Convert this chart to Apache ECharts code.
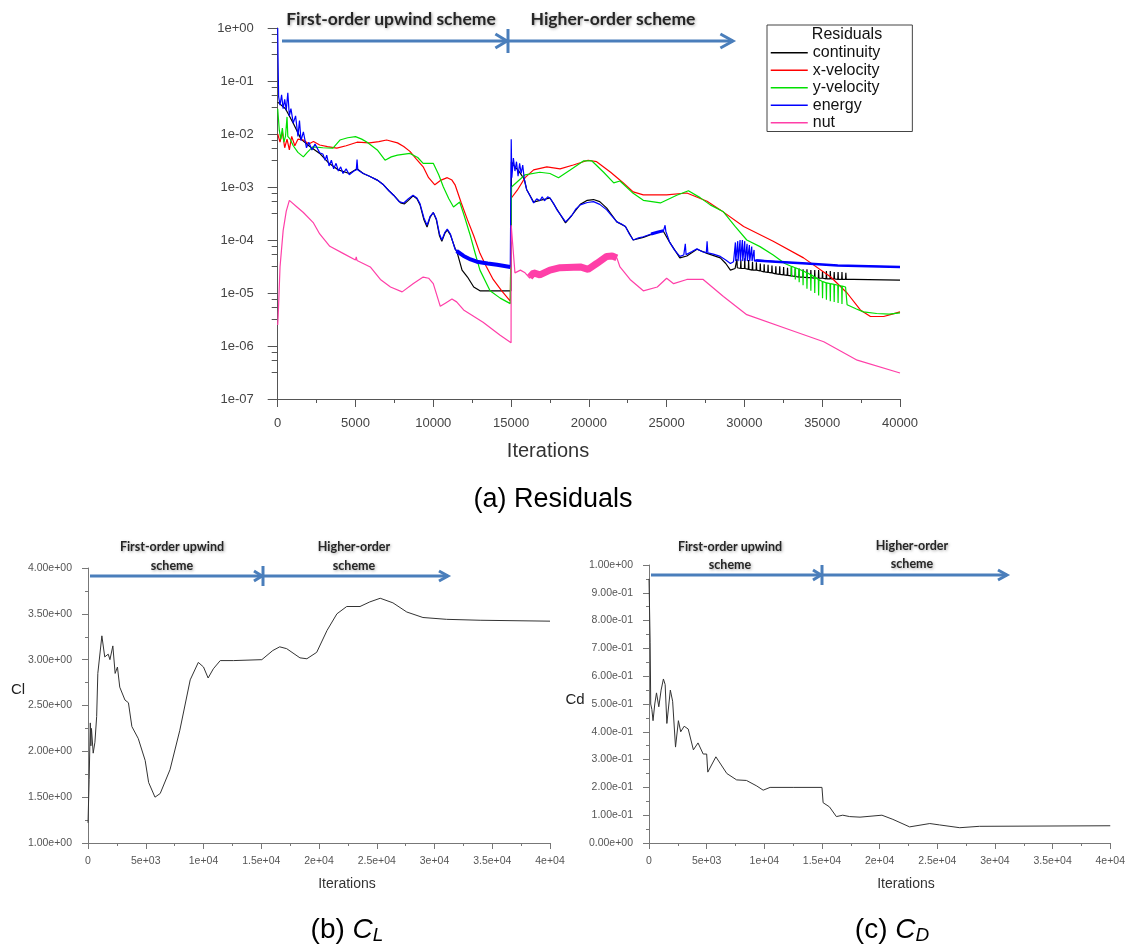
<!DOCTYPE html>
<html>
<head>
<meta charset="utf-8">
<title>Residuals, Cl and Cd</title>
<script src="https://cdn.jsdelivr.net/npm/echarts@6/dist/echarts.min.js"></script>
<style>
html, body { margin: 0; padding: 0; background: #fff; }
#main { width: 1128px; height: 949px; }
</style>
</head>
<body>
<div id="main"></div>
<script>
// ---- residual histories [iteration, residual] ----
var continuity = [
  [0, 4e-2], [500, 3e-2], [1000, 1.6e-2], [1500, 8e-3], [2000, 6e-3], [2700, 4.3e-3], [3300, 2.8e-3],
  [3900, 2.1e-3], [4600, 1.8e-3], [5100, 2.2e-3], [5500, 1.8e-3], [5900, 1.6e-3], [6400, 1.35e-3],
  [6800, 1.1e-3], [7150, 8.5e-4], [7450, 7e-4], [7900, 5e-4], [8150, 4.8e-4], [8400, 5.6e-4],
  [8700, 6.8e-4], [8950, 6e-4], [9150, 4.6e-4], [9400, 2.4e-4], [9600, 1.75e-4], [9800, 2.7e-4],
  [10000, 3.3e-4], [10200, 2.4e-4], [10400, 1.2e-4], [10550, 9.5e-5], [10750, 1.35e-4], [10900, 1.55e-4],
  [11100, 1.25e-4], [11400, 7e-5], [11550, 5.6e-5], [11850, 2.7e-5], [12200, 2e-5], [12600, 1.3e-5],
  [13000, 1.1e-5], [15000, 1.1e-5],
  [15020, 3e-3], [15200, 2.5e-3], [15500, 2e-3], [15850, 1.4e-3], [16000, 9e-4], [16450, 5.2e-4],
  [16850, 5.6e-4], [17500, 6.2e-4], [17950, 3.8e-4], [18500, 2.1e-4], [18900, 2.9e-4], [19450, 4.7e-4],
  [19900, 5.6e-4], [20300, 5.8e-4], [20700, 5.3e-4], [21150, 4e-4], [21500, 2.9e-4], [21800, 2.2e-4],
  [22350, 1.8e-4], [22850, 1e-4], [23500, 1.12e-4], [24400, 1.4e-4], [24800, 1.45e-4], [25200, 9e-5],
  [25850, 4.6e-5], [26300, 5e-5], [26950, 6.7e-5], [27600, 5.6e-5], [28450, 4.6e-5], [28800, 3.6e-5],
  [29100, 2.7e-5], [29400, 2.9e-5],
  [29500, 3e-5], [29520, 4.4e-5], [29540, 3e-5], [29750, 2.9e-5], [29770, 4.3e-5], [29790, 2.9e-5],
  [30000, 2.9e-5], [30020, 4.5e-5], [30040, 2.9e-5], [30250, 2.8e-5], [30270, 4.2e-5], [30290, 2.8e-5],
  [30500, 2.7e-5], [30520, 3.9e-5], [30540, 2.7e-5], [30750, 2.7e-5], [30770, 3.8e-5], [30790, 2.7e-5],
  [31000, 2.6e-5], [31020, 3.6e-5], [31040, 2.6e-5], [31250, 2.5e-5], [31270, 3.5e-5], [31290, 2.5e-5],
  [31500, 2.45e-5], [31520, 3.4e-5], [31540, 2.45e-5], [31750, 2.4e-5], [31770, 3.3e-5], [31790, 2.4e-5],
  [32000, 2.3e-5], [32020, 3.2e-5], [32040, 2.3e-5], [32250, 2.25e-5], [32270, 3.2e-5], [32290, 2.25e-5],
  [32500, 2.2e-5], [32520, 3.1e-5], [32540, 2.2e-5], [32750, 2.15e-5], [32770, 3e-5], [32790, 2.15e-5],
  [33000, 2.1e-5], [33020, 3e-5], [33040, 2.1e-5], [33250, 2.05e-5], [33270, 2.9e-5], [33290, 2.05e-5],
  [33500, 2e-5], [33520, 2.9e-5], [33540, 2e-5], [33750, 2e-5], [33770, 2.8e-5], [33790, 2e-5],
  [34000, 1.95e-5], [34020, 2.8e-5], [34040, 1.95e-5], [34250, 1.95e-5], [34270, 2.7e-5], [34290, 1.95e-5],
  [34500, 1.9e-5], [34520, 2.7e-5], [34540, 1.9e-5], [34750, 1.9e-5], [34770, 2.7e-5], [34790, 1.9e-5],
  [35000, 1.9e-5], [35020, 2.6e-5], [35040, 1.9e-5], [35250, 1.85e-5], [35270, 2.6e-5], [35290, 1.85e-5],
  [35500, 1.85e-5], [35520, 2.6e-5], [35540, 1.85e-5], [35750, 1.85e-5], [35770, 2.5e-5], [35790, 1.85e-5],
  [36000, 1.8e-5], [36020, 2.5e-5], [36040, 1.8e-5], [36250, 1.8e-5], [36270, 2.5e-5], [36290, 1.8e-5],
  [36500, 1.8e-5], [36520, 2.4e-5], [36540, 1.8e-5], [37000, 1.8e-5], [40000, 1.75e-5]
];
var xVelocity = [
  [0, 1e-2], [150, 7e-3], [300, 1.1e-2], [450, 5.5e-3], [600, 8e-3], [750, 5e-3], [900, 9e-3],
  [1100, 6e-3], [1300, 8e-3], [1650, 7.7e-3], [2000, 6.5e-3], [2300, 7.2e-3], [2700, 6.2e-3],
  [3200, 5.8e-3], [3800, 5.4e-3], [4400, 6e-3], [5100, 7e-3], [5900, 6.8e-3], [6500, 7.2e-3],
  [7000, 7.7e-3], [7700, 6.8e-3], [8100, 5.8e-3], [8500, 4.7e-3], [8900, 3.4e-3], [9350, 2.4e-3],
  [9700, 1.5e-3], [10100, 1.1e-3], [10500, 1.35e-3], [10900, 1.5e-3], [11200, 1.35e-3], [11400, 1.1e-3],
  [11800, 5e-4], [12200, 2.4e-4], [12600, 1.2e-4], [13000, 5.6e-5], [13400, 3.2e-5], [13850, 1.8e-5],
  [14400, 1.1e-5], [14950, 7e-6],
  [15000, 7e-6], [15020, 6.2e-4], [15400, 8.7e-4], [15900, 1.5e-3], [16450, 2.1e-3], [17300, 2.4e-3],
  [18150, 2.2e-3], [19000, 2.6e-3], [19950, 3.2e-3], [20500, 3e-3], [21400, 1.9e-3], [22200, 1.2e-3],
  [22850, 8.1e-4], [23500, 7.1e-4], [25000, 7.1e-4], [26300, 7.7e-4], [27600, 5.4e-4], [28450, 3.7e-4],
  [29950, 1.8e-4], [31850, 9.5e-5], [33800, 4.6e-5], [35550, 2e-5], [36600, 1e-5], [37450, 4.8e-6],
  [38100, 3.6e-6], [38950, 3.6e-6], [39500, 4e-6], [40000, 4.4e-6]
];
var yVelocity = [
  [0, 3e-2], [100, 1.2e-2], [200, 8e-3], [300, 1.3e-2], [400, 7e-3], [500, 9e-3], [600, 2.1e-2],
  [650, 9e-3], [800, 8e-3], [1000, 6e-3], [1300, 4.5e-3], [1650, 3.7e-3], [1900, 4.5e-3], [2250, 5.7e-3],
  [2900, 5.5e-3], [3550, 5.4e-3], [4000, 7.7e-3], [4500, 8.5e-3], [5000, 8.9e-3], [5400, 8e-3],
  [5750, 7e-3], [6400, 5e-3], [6900, 3.2e-3], [7300, 3.7e-3], [7700, 4e-3], [8500, 4.3e-3], [9000, 3.6e-3],
  [9350, 2.8e-3], [10000, 2.8e-3], [10350, 1.7e-3], [10650, 1e-3], [11000, 6e-4], [11300, 4.2e-4],
  [11700, 5.2e-4], [12000, 2.8e-4], [12350, 1.3e-4], [12700, 5.5e-5], [13000, 2.7e-5], [13650, 1.1e-5],
  [14300, 8e-6], [14950, 6.3e-6],
  [15000, 6e-6], [15030, 1e-3], [15900, 1.7e-3], [16850, 1.9e-3], [17500, 1.8e-3], [18050, 1.5e-3],
  [18800, 2.1e-3], [19650, 3.1e-3], [20200, 3.1e-3], [20950, 1.9e-3], [21600, 1.2e-3], [22000, 1.3e-3],
  [22850, 7.6e-4], [23500, 5.6e-4], [24600, 5e-4], [25650, 7e-4], [26400, 8.5e-4], [27150, 6.3e-4],
  [27800, 4.6e-4], [28650, 3.4e-4], [29400, 1.8e-4], [30150, 1e-4], [31000, 7.5e-5], [31850, 5.2e-5],
  [32600, 3.6e-5],
  [33000, 3.2e-5], [33020, 2e-5], [33040, 3.2e-5], [33250, 3e-5], [33270, 1.8e-5], [33290, 3e-5],
  [33500, 2.8e-5], [33520, 1.6e-5], [33540, 2.8e-5], [33750, 2.6e-5], [33770, 1.4e-5], [33790, 2.6e-5],
  [34000, 2.4e-5], [34020, 1.2e-5], [34040, 2.4e-5], [34250, 2.2e-5], [34270, 1.1e-5], [34290, 2.2e-5],
  [34500, 2e-5], [34520, 1e-5], [34540, 2e-5], [34750, 1.8e-5], [34770, 9e-6], [34790, 1.8e-5],
  [35000, 1.65e-5], [35020, 8e-6], [35040, 1.65e-5], [35250, 1.55e-5], [35270, 7.5e-6], [35290, 1.55e-5],
  [35500, 1.5e-5], [35520, 7e-6], [35540, 1.5e-5], [35750, 1.45e-5], [35770, 6.8e-6], [35790, 1.45e-5],
  [36000, 1.4e-5], [36020, 6.5e-6], [36040, 1.4e-5], [36250, 1.35e-5], [36270, 6.2e-6], [36290, 1.35e-5],
  [36500, 1.3e-5], [36600, 6e-6],
  [37200, 5e-6], [37650, 4.4e-6], [38500, 4.1e-6], [39300, 4e-6], [40000, 4.2e-6]
];
var energy = [
  [0, 1.0], [20, 0.3], [60, 5e-2], [150, 3.5e-2], [250, 5.5e-2], [350, 3e-2], [450, 4.5e-2], [550, 2.8e-2],
  [650, 6e-2], [750, 2.2e-2], [850, 3e-2], [1000, 1.6e-2], [1150, 2.2e-2], [1300, 9e-3], [1400, 1.8e-2],
  [1500, 7.5e-3], [1650, 1.1e-2], [1850, 5.5e-3], [2000, 7e-3], [2200, 5e-3], [2400, 6.5e-3],
  [2700, 4.4e-3], [2900, 4.2e-3], [3050, 3.2e-3], [3150, 4e-3], [3300, 2.5e-3], [3450, 3.2e-3],
  [3600, 2.2e-3], [3750, 2.8e-3], [3900, 2e-3], [4050, 2.4e-3], [4200, 1.8e-3], [4400, 2.2e-3],
  [4600, 1.7e-3], [4900, 2e-3], [5050, 2.1e-3], [5100, 3.3e-3], [5150, 2.1e-3], [5500, 1.8e-3],
  [5900, 1.6e-3], [6400, 1.35e-3], [6800, 1.1e-3], [7150, 8.5e-4], [7450, 7e-4], [7800, 5.3e-4],
  [8100, 5e-4], [8400, 6e-4], [8700, 7e-4], [8950, 6.2e-4], [9150, 4.8e-4], [9400, 2.6e-4], [9600, 1.9e-4],
  [9800, 2.8e-4], [10000, 3.3e-4], [10200, 2.5e-4], [10400, 1.3e-4], [10550, 1e-4], [10750, 1.4e-4],
  [10900, 1.6e-4], [11100, 1.3e-4], [11400, 6.7e-5], [11700, 5.5e-5], [11950, 5e-5], [12400, 4.3e-5],
  [12800, 3.9e-5], [13500, 3.6e-5], [14100, 3.4e-5], [14950, 3.1e-5],
  [15000, 3e-5], [15010, 8e-3], [15050, 1.5e-3], [15150, 3.5e-3], [15250, 2e-3], [15350, 3e-3],
  [15450, 1.6e-3], [15550, 2.8e-3], [15650, 1.8e-3], [15750, 2.6e-3], [15850, 1.4e-3], [16000, 9e-4],
  [16200, 7e-4], [16450, 5e-4], [16650, 6e-4], [16850, 5.5e-4], [17000, 6.5e-4], [17150, 5.5e-4],
  [17350, 6.5e-4], [17500, 6.2e-4], [17750, 4.8e-4], [17950, 3.7e-4], [18250, 2.8e-4], [18500, 2.2e-4],
  [18700, 2.5e-4], [18900, 2.9e-4], [19150, 3.8e-4], [19450, 4.6e-4], [19900, 5.1e-4], [20300, 5.3e-4],
  [20700, 4.7e-4], [21150, 3.7e-4], [21500, 2.8e-4], [21800, 2.2e-4], [22100, 2e-4], [22350, 1.8e-4],
  [22600, 1.3e-4], [22850, 1e-4], [23200, 1.1e-4], [23500, 1.15e-4], [24000, 1.3e-4], [24400, 1.4e-4],
  [24800, 1.5e-4], [24900, 1.9e-4], [24950, 1.45e-4], [25200, 9e-5], [25500, 6.5e-5], [25850, 4.9e-5],
  [26100, 5.2e-5], [26200, 8.5e-5], [26250, 5.3e-5], [26600, 6e-5], [26950, 6.8e-5], [27300, 6e-5],
  [27550, 5.8e-5], [27600, 9.5e-5], [27650, 5.7e-5], [28000, 5.4e-5], [28450, 4.9e-5], [28800, 4.2e-5],
  [29100, 3.6e-5], [29300, 3.9e-5],
  [29400, 4e-5], [29420, 9e-5], [29440, 4e-5], [29550, 4e-5], [29570, 9.5e-5], [29590, 4e-5],
  [29700, 4e-5], [29720, 1e-4], [29740, 4e-5], [29850, 4e-5], [29870, 1e-4], [29890, 4e-5],
  [30000, 4e-5], [30020, 9.5e-5], [30040, 4e-5], [30150, 4e-5], [30170, 8.5e-5], [30190, 4e-5],
  [30300, 4e-5], [30320, 8e-5], [30340, 4e-5], [30450, 4e-5], [30470, 7.5e-5], [30490, 4e-5],
  [30600, 4e-5], [30620, 6.5e-5], [30640, 4e-5], [30800, 4.2e-5], [32000, 3.9e-5],
  [34000, 3.6e-5], [36000, 3.3e-5], [38000, 3.2e-5], [40000, 3.1e-5]
];
var nut = [
  [0, 2.5e-6], [30, 3.6e-6], [150, 3.1e-5], [350, 1.5e-4], [550, 3.5e-4], [750, 5.6e-4], [1200, 4.3e-4],
  [1650, 3.3e-4], [2300, 2.1e-4], [2700, 1.3e-4], [3350, 7.6e-5], [4200, 5.6e-5], [5000, 4.2e-5],
  [5050, 4.8e-5], [5100, 4.1e-5], [5950, 3.1e-5], [6600, 1.8e-5], [7250, 1.3e-5], [8000, 1.05e-5],
  [8700, 1.5e-5], [9350, 2e-5], [9700, 1.9e-5], [10000, 1.5e-5], [10450, 5.6e-6], [10800, 6.5e-6],
  [11200, 7.7e-6], [11500, 6.8e-6], [11950, 4.8e-6], [13200, 2.8e-6], [14300, 1.6e-6], [15000, 1.15e-6],
  [15010, 1.9e-4], [15100, 8.7e-5], [15250, 2.4e-5], [15600, 2.7e-5], [15900, 2.4e-5], [16200, 1.9e-5],
  [16450, 2.4e-5], [16850, 2.2e-5], [17500, 2.7e-5], [18150, 3e-5], [19450, 3.1e-5], [19950, 2.8e-5],
  [20500, 3.6e-5], [21150, 4.9e-5], [21800, 4.6e-5], [22000, 3.1e-5], [22650, 1.8e-5], [23500, 1.1e-5],
  [24400, 1.3e-5], [25000, 1.9e-5], [25450, 1.5e-5], [26300, 1.8e-5], [27350, 1.8e-5], [28650, 8.6e-6],
  [30150, 3.9e-6], [32950, 2e-6], [35100, 1.2e-6], [37250, 5.4e-7], [40000, 3.1e-7]
];
// stretches where a residual scatters into a thick band
var energyBand = [
  [11500, 6.2e-5], [11950, 5e-5], [12400, 4.3e-5], [12800, 3.9e-5], [13500, 3.6e-5], [14100, 3.4e-5], [14950, 3.1e-5]
];
var energyBandMid = [[24000, 1.3e-4], [24400, 1.4e-4], [24800, 1.5e-4]];
var energyBandLate = [[30700, 4.1e-5], [32000, 3.9e-5], [34000, 3.6e-5], [36000, 3.3e-5], [38000, 3.2e-5], [40000, 3.1e-5]];
var nutBand = [
  [16200, 2e-5], [16450, 2.4e-5], [16850, 2.2e-5], [17500, 2.7e-5], [18150, 3e-5], [19450, 3.1e-5],
  [19950, 2.8e-5], [20500, 3.6e-5], [21150, 4.9e-5], [21500, 5e-5], [21800, 4.6e-5]
];

// ---- lift and drag coefficient histories [iteration, value] ----
var cl = [
  [0, 1.22], [100, 1.69], [200, 2.31], [250, 2.06], [300, 2.25], [450, 1.98], [600, 2.1], [750, 2.38],
  [850, 2.85], [1200, 3.26], [1450, 3.03], [1750, 3.06], [1900, 3.0], [2150, 3.15], [2350, 2.85],
  [2550, 2.92], [2750, 2.7], [3200, 2.56], [3500, 2.53], [3800, 2.27], [4350, 2.14], [4950, 1.9],
  [5250, 1.66], [5800, 1.5], [6250, 1.54], [7100, 1.8], [7950, 2.23], [8850, 2.78], [9550, 2.97],
  [10000, 2.92], [10400, 2.8], [10850, 2.9], [11450, 2.99], [12600, 2.99], [15050, 3.0], [16000, 3.1],
  [16600, 3.14], [17200, 3.12], [18350, 3.02], [18950, 3.01], [19800, 3.08], [20700, 3.32], [21550, 3.5],
  [22400, 3.58], [23550, 3.58], [24400, 3.63], [25300, 3.67], [26400, 3.62], [27600, 3.52], [29000, 3.46],
  [31050, 3.44], [33950, 3.43], [40000, 3.42]
];
var cd = [
  [0, 0.95], [100, 0.72], [150, 0.5], [250, 0.48], [350, 0.44], [500, 0.5], [650, 0.54], [850, 0.49],
  [1050, 0.55], [1250, 0.59], [1400, 0.57], [1550, 0.43], [1850, 0.55], [2050, 0.51], [2300, 0.345],
  [2550, 0.44], [2750, 0.4], [3050, 0.42], [3400, 0.41], [3850, 0.335], [4250, 0.36], [4700, 0.32],
  [5000, 0.32], [5100, 0.255], [5800, 0.31], [6750, 0.25], [7600, 0.227], [8450, 0.225], [9350, 0.205],
  [9900, 0.19], [10500, 0.2], [12500, 0.2], [15000, 0.2], [15100, 0.145], [15650, 0.13], [16250, 0.095],
  [16800, 0.1], [17400, 0.095], [18300, 0.093], [20200, 0.1], [21150, 0.085], [22600, 0.058],
  [24350, 0.07], [25200, 0.065], [26950, 0.055], [28650, 0.06], [40000, 0.062]
];

var residualNames = ['continuity', 'x-velocity', 'y-velocity', 'energy', 'nut'];
var residualColors = ['#000000', '#ff0000', '#00e000', '#0000ff', '#ff3fa8'];

function padExp(s) {
  return s.replace(/e([+-])(\d)$/, function (m, sign, d) { return 'e' + sign + '0' + d; });
}
function logLabel(v) {
  var p = Math.round(Math.log(v) / Math.LN10);
  return '1e' + (p < 0 ? '-' : '+') + (Math.abs(p) < 10 ? '0' : '') + Math.abs(p);
}
function iterExp(v) { return v === 0 ? '0' : padExp(v.toExponential()); }
function coefExp(v) { return padExp(v.toExponential(2)); }

var chart = echarts.init(document.getElementById('main'));

var smallAxis = {
  axisLine: { lineStyle: { color: '#777', width: 1 } },
  axisTick: { length: 6, lineStyle: { color: '#777' } },
  minorTick: { show: true, splitNumber: 2, length: 3, lineStyle: { color: '#777' } },
  splitLine: { show: false }
};

function arrowGraphics(x0, xBar, x1, y, head, barHalf) {
  var blue = '#4a7ebb';
  return [
    { type: 'line', shape: { x1: x0, y1: y, x2: xBar, y2: y }, style: { stroke: blue, lineWidth: 3 } },
    { type: 'polyline', shape: { points: [[xBar - head * 1.8, y - head], [xBar - 1, y], [xBar - head * 1.8, y + head]] }, style: { stroke: blue, lineWidth: 3, fill: null } },
    { type: 'line', shape: { x1: xBar, y1: y - barHalf, x2: xBar, y2: y + barHalf }, style: { stroke: blue, lineWidth: 3 } },
    { type: 'line', shape: { x1: xBar, y1: y, x2: x1, y2: y }, style: { stroke: blue, lineWidth: 3 } },
    { type: 'polyline', shape: { points: [[x1 - head * 1.8, y - head], [x1, y], [x1 - head * 1.8, y + head]] }, style: { stroke: blue, lineWidth: 3, fill: null } }
  ];
}
function schemeText(text, x, y, size) {
  return {
    type: 'text',
    style: {
      text: text, x: x, y: y, align: 'center', verticalAlign: 'middle',
      fontFamily: 'Lato', fontWeight: 'bold', fontSize: size, fill: '#262626',
      textShadowColor: 'rgba(0,0,0,0.35)', textShadowBlur: 3, textShadowOffsetX: 1, textShadowOffsetY: 1
    }
  };
}
function plainText(text, x, y, size, color) {
  return {
    type: 'text',
    style: { text: text, x: x, y: y, align: 'center', verticalAlign: 'middle', fontFamily: 'Liberation Sans', fontSize: size, fill: color }
  };
}
function caption(prefix, sym, sub, x, y) {
  return {
    type: 'text',
    style: {
      text: prefix + '{i|' + sym + '}{s|' + sub + '}', x: x, y: y, align: 'center', verticalAlign: 'middle',
      fontFamily: 'Liberation Sans', fontSize: 28, fill: '#000',
      rich: {
        i: { fontFamily: 'Liberation Sans', fontStyle: 'italic', fontSize: 28, fill: '#000' },
        s: { fontFamily: 'Liberation Sans', fontStyle: 'italic', fontSize: 19, fill: '#000', padding: [12, 0, 0, 0] }
      }
    }
  };
}

var graphics = []
  .concat(arrowGraphics(282, 508, 733, 41, 7, 12))
  .concat(arrowGraphics(90, 263, 448, 576, 5, 10))
  .concat(arrowGraphics(651, 822, 1007, 575, 5, 10))
  .concat([
    schemeText('First-order upwind scheme', 391, 19, 17.5),
    schemeText('Higher-order scheme', 613, 19, 17.5),
    schemeText('First-order upwind', 172, 547, 12.5),
    schemeText('scheme', 172, 566, 12.5),
    schemeText('Higher-order', 354, 547, 12.5),
    schemeText('scheme', 354, 566, 12.5),
    schemeText('First-order upwind', 730, 547, 12.5),
    schemeText('scheme', 730, 565, 12.5),
    schemeText('Higher-order', 912, 546, 12.5),
    schemeText('scheme', 912, 564, 12.5),
    plainText('Residuals', 847, 35, 16, '#111'),
    plainText('Iterations', 548, 451, 20, '#333'),
    plainText('Iterations', 347, 884, 14, '#333'),
    plainText('Iterations', 906, 884, 14, '#333'),
    plainText('Cl', 18, 690, 15, '#222'),
    plainText('Cd', 575, 700, 15, '#222'),
    plainText('(a) Residuals', 553, 500, 27, '#000'),
    caption('(b) ', 'C', 'L', 347, 930),
    caption('(c) ', 'C', 'D', 892, 930)
  ]);

function residualSeries(name, data, color, width) {
  return {
    name: name, type: 'line', xAxisIndex: 0, yAxisIndex: 0, data: data,
    symbol: 'none', showSymbol: false, silent: true,
    lineStyle: { color: color, width: width }, itemStyle: { color: color }
  };
}

var option = {
  animation: false,
  backgroundColor: '#ffffff',
  textStyle: { fontFamily: 'Liberation Sans' },
  grid: [
    { left: 277.7, top: 28, width: 622.3, height: 371 },
    { left: 88, top: 568, width: 462, height: 275 },
    { left: 649, top: 565, width: 462, height: 278 }
  ],
  legend: {
    data: residualNames,
    orient: 'vertical',
    left: 767, top: 25,
    padding: [19, 32, 0, 3],
    itemGap: 0,
    itemWidth: 37, itemHeight: 14,
    itemStyle: { opacity: 0 },
    lineStyle: { width: 1.5 },
    borderColor: '#444', borderWidth: 1,
    selectedMode: false,
    textStyle: { fontFamily: 'Liberation Sans', fontSize: 16, color: '#111', lineHeight: 17.5 }
  },
  xAxis: [
    {
      gridIndex: 0, type: 'value', min: 0, max: 40000, interval: 5000,
      axisLine: { lineStyle: { color: '#555' } },
      axisTick: { length: 8, lineStyle: { color: '#555' } },
      minorTick: { show: true, splitNumber: 2, length: 4, lineStyle: { color: '#555' } },
      splitLine: { show: false },
      axisLabel: { margin: 18, fontSize: 13, color: '#444', formatter: function (v) { return String(v); } }
    },
    Object.assign({ gridIndex: 1, type: 'value', min: 0, max: 40000, interval: 5000,
      axisLabel: { margin: 13, fontSize: 10.5, color: '#555', formatter: iterExp } }, smallAxis),
    Object.assign({ gridIndex: 2, type: 'value', min: 0, max: 40000, interval: 5000,
      axisLabel: { margin: 13, fontSize: 10.5, color: '#555', formatter: iterExp } }, smallAxis)
  ],
  yAxis: [
    {
      gridIndex: 0, type: 'log', logBase: 10, min: 1e-7, max: 1, splitNumber: 7,
      axisLine: { lineStyle: { color: '#555' } },
      axisTick: { length: 10, lineStyle: { color: '#555' } },
      minorTick: { show: true, splitNumber: 4, length: 6, lineStyle: { color: '#555' } },
      splitLine: { show: false },
      axisLabel: { margin: 24, fontSize: 13, color: '#444', formatter: logLabel }
    },
    Object.assign({ gridIndex: 1, type: 'value', min: 1, max: 4, interval: 0.5,
      axisLabel: { margin: 16, fontSize: 10.5, color: '#555', formatter: coefExp } }, smallAxis),
    Object.assign({ gridIndex: 2, type: 'value', min: 0, max: 1, interval: 0.1,
      axisLabel: { margin: 16, fontSize: 10.5, color: '#555', formatter: coefExp } }, smallAxis)
  ],
  series: [
    residualSeries('continuity', continuity, residualColors[0], 1.2),
    residualSeries('x-velocity', xVelocity, residualColors[1], 1.2),
    residualSeries('y-velocity', yVelocity, residualColors[2], 1.2),
    residualSeries('energy', energy, residualColors[3], 1.2),
    residualSeries('energy', energyBand, residualColors[3], 4),
    residualSeries('energy', energyBandMid, residualColors[3], 3),
    residualSeries('energy', energyBandLate, residualColors[3], 2.5),
    residualSeries('nut', nut, residualColors[4], 1.2),
    residualSeries('nut', nutBand, residualColors[4], 7),
    {
      name: 'Cl', type: 'line', xAxisIndex: 1, yAxisIndex: 1, data: cl,
      symbol: 'none', silent: true, lineStyle: { color: '#333', width: 1 }
    },
    {
      name: 'Cd', type: 'line', xAxisIndex: 2, yAxisIndex: 2, data: cd,
      symbol: 'none', silent: true, lineStyle: { color: '#333', width: 1 }
    }
  ],
  graphic: { elements: graphics }
};

chart.setOption(option);
</script>
</body>
</html>
